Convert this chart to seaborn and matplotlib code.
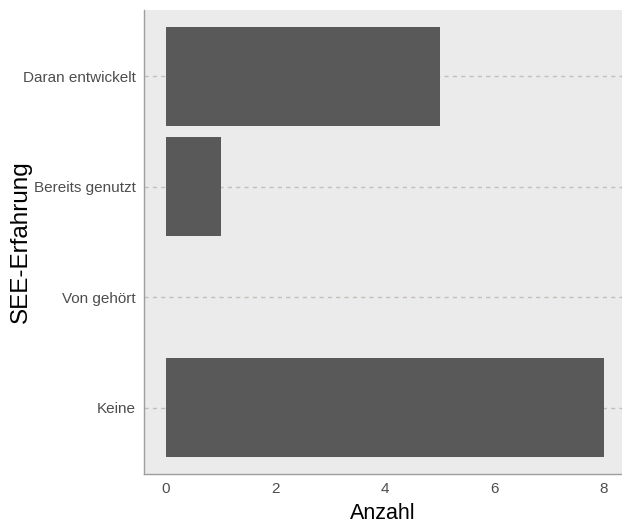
import matplotlib
matplotlib.use("Agg")
import matplotlib.pyplot as plt
import seaborn as sns
import pandas as pd

categories = ["Daran entwickelt", "Bereits genutzt", "Von gehört", "Keine"]
counts = [5, 1, 0, 8]
x_ticks = [0, 2, 4, 6, 8]

df = pd.DataFrame({"SEE-Erfahrung": categories, "Anzahl": counts})

sns.set_style("white")
plt.rcParams["font.family"] = ["Liberation Sans", "DejaVu Sans"]

fig = plt.figure(figsize=(6.22, 5.27), dpi=100)
ax = fig.add_axes([144 / 622, 53 / 527, 1 - 144 / 622, (474 - 10) / 527])
ax.set_facecolor("#EBEBEB")

# dashed horizontal guides at each category
for i in range(len(categories)):
    ax.axhline(i, color="#C4BEBA", linestyle=(0, (3, 3)), linewidth=1.0, zorder=0)

sns.barplot(data=df, x="Anzahl", y="SEE-Erfahrung", order=categories,
            orient="h", color="#595959", width=0.9, saturation=1,
            linewidth=0, edgecolor="none", ax=ax, zorder=2)

ax.set_xlim(-0.4, 8.33)
ax.set_ylim(3.6, -0.6)
ax.set_xticks(x_ticks)
ax.set_xticklabels([str(v) for v in x_ticks])

for s in ["top", "right"]:
    ax.spines[s].set_visible(False)
for s in ["left", "bottom"]:
    ax.spines[s].set_color("#9E9E9E")
    ax.spines[s].set_linewidth(1.0)

ax.tick_params(axis="both", which="both", labelsize=11, labelcolor="#4D4D4D",
               color="#BDBDBD", length=3, width=0.8, pad=3)
ax.tick_params(axis="x", length=0, pad=6)

ax.set_xlabel("Anzahl", fontsize=15.5, color="black", labelpad=5)
ax.set_ylabel("SEE-Erfahrung", fontsize=17.5, color="black")
ax.yaxis.set_label_coords(-0.234, 0.5)

fig.savefig("out.png", dpi=100)
